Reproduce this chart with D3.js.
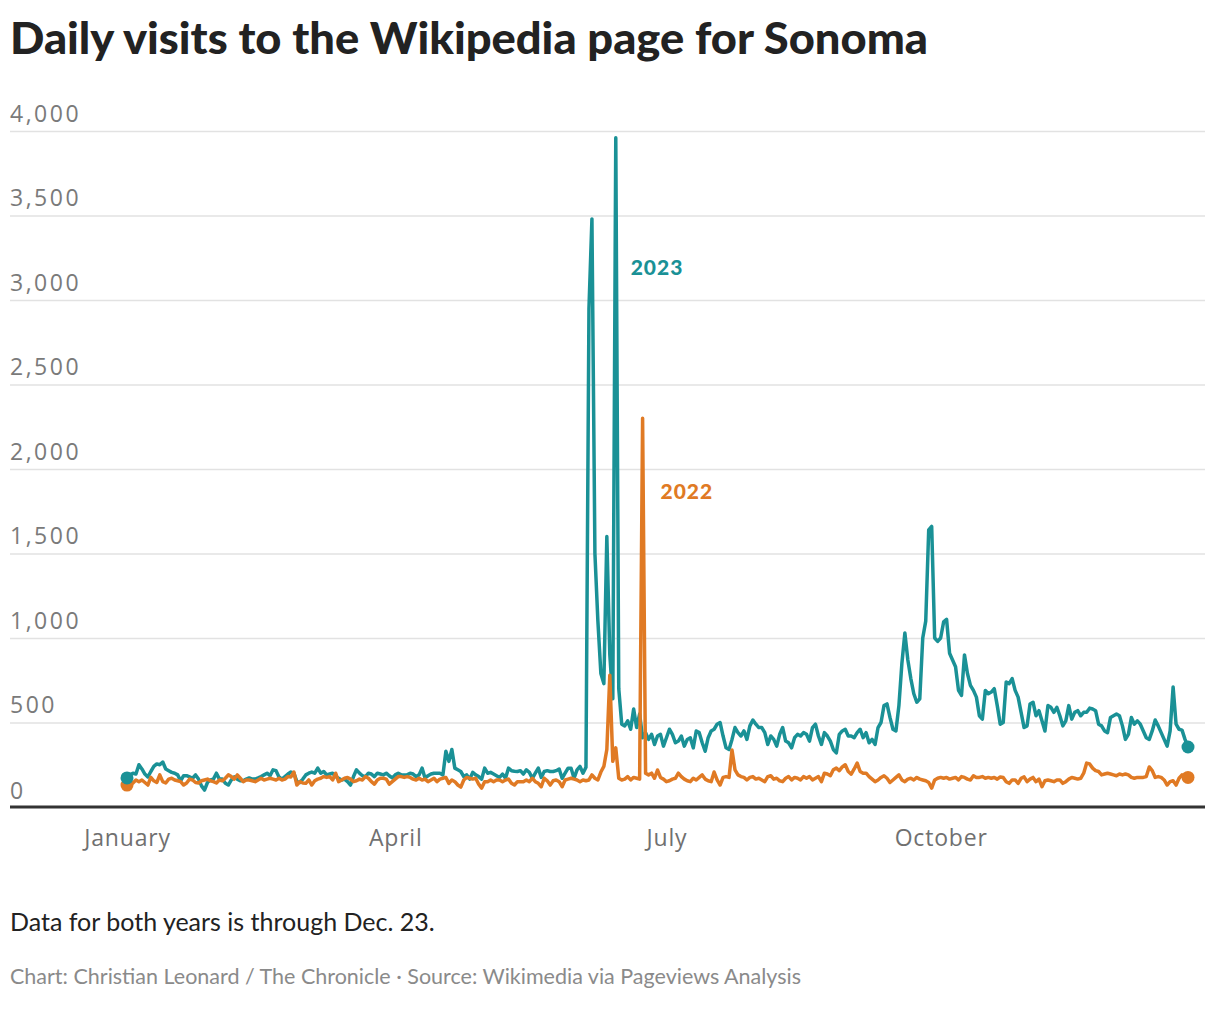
<!DOCTYPE html>
<html>
<head>
<meta charset="utf-8">
<script src="https://cdn.jsdelivr.net/npm/d3@7"></script>
<style>
  html, body { margin: 0; padding: 0; background: #fff; }
  svg { display: block; }
</style>
</head>
<body>
<svg id="chart" width="1220" height="1012"></svg>
<script>
// ---------- DATA ----------
const startDay = "2023-01-01";   // both years plotted on a common Jan 1 – Dec 23 axis
const endDay = "2023-12-23";
const seriesNames = ["2022", "2023"];

const visits2023 = [
  172,190,200,195,250,225,195,178,210,240,
  255,250,266,225,215,205,200,190,155,185,
  185,178,170,190,165,125,100,145,160,165,
  200,165,165,140,130,160,178,165,155,155,
  165,172,165,165,172,180,190,200,185,220,
  215,178,165,180,195,207,200,150,145,165,
  190,200,207,200,230,200,210,190,195,200,
  180,170,160,165,150,130,180,220,200,185,
  180,200,195,180,200,195,190,200,185,172,
  190,200,190,190,190,200,195,180,190,230,
  172,185,195,200,200,200,190,330,270,340,
  230,220,210,180,190,165,205,190,180,165,
  230,200,205,195,185,175,195,170,230,215,
  212,210,215,195,220,205,170,200,230,175,
  210,215,210,210,215,225,170,200,230,230,
  170,220,240,200,235,2950,3480,1500,1100,790,
  730,1600,900,640,3960,700,490,480,510,460,
  580,470,550,410,440,400,430,370,420,430,
  360,410,460,430,380,390,420,360,400,410,
  350,450,440,380,330,410,450,460,490,500,
  420,350,340,400,470,440,420,450,400,480,
  515,490,470,470,440,370,420,400,360,430,
  470,390,380,350,410,430,420,440,430,390,
  470,490,420,370,440,420,390,340,320,430,
  450,460,420,420,410,440,460,410,440,380,
  400,370,470,500,600,610,530,460,450,600,
  850,1030,870,760,670,620,640,1000,1100,1640,
  1660,1000,980,1000,1095,1110,910,870,830,690,
  660,900,790,720,690,650,540,520,690,670,
  680,700,600,490,500,740,730,760,690,650,
  560,470,480,610,620,540,570,510,450,600,
  590,560,590,540,480,510,600,520,560,570,
  540,560,560,585,580,570,490,480,450,440,
  530,540,550,540,480,400,430,530,490,510,
  490,450,410,400,450,515,480,440,400,360,
  450,710,490,460,455,400,355
];

const visits2022 = [
  130,150,142,160,150,160,145,130,175,155,
  145,190,150,142,165,170,160,155,150,130,
  142,165,160,145,142,155,160,165,155,150,
  142,160,155,170,190,180,165,190,170,150,
  160,160,155,150,160,170,160,165,170,165,
  160,170,160,165,180,178,207,130,150,142,
  140,160,130,155,165,170,180,175,180,160,
  200,150,160,170,175,165,150,155,165,160,
  180,170,150,135,160,170,170,165,135,150,
  165,180,180,175,180,175,165,160,170,160,
  165,150,160,170,150,165,170,175,140,160,
  150,130,118,160,175,170,165,170,135,112,
  150,150,160,150,160,160,150,160,165,140,
  130,150,150,150,160,150,170,150,140,120,
  170,155,130,155,160,150,120,160,165,170,
  165,160,150,160,155,160,190,170,160,207,
  240,340,780,270,350,170,160,165,180,160,
  175,170,165,2300,200,190,200,170,219,175,
  165,150,155,165,170,200,180,165,155,150,
  170,160,175,190,165,155,150,207,160,130,
  175,180,175,337,220,190,180,175,160,175,
  180,165,170,160,150,180,185,165,170,155,
  150,170,180,160,175,170,160,180,170,180,
  160,170,180,150,200,195,185,220,230,215,
  237,250,210,195,225,260,210,200,200,180,
  165,150,160,175,185,170,145,160,175,190,
  160,150,165,170,160,175,165,160,155,145,
  112,160,170,175,170,175,165,170,175,160,
  180,175,165,160,185,175,175,180,170,175,
  170,175,165,178,175,150,140,160,160,140,
  170,178,150,165,175,150,165,120,155,160,
  155,150,160,160,140,150,165,175,170,165,
  170,200,260,255,230,215,210,190,195,200,
  195,190,185,195,190,195,190,175,170,175,
  175,175,180,237,215,175,180,175,160,130,
  150,155,130,170,190,175,175
];

const yTickValues = [0, 500, 1000, 1500, 2000, 2500, 3000, 3500, 4000];
const yTickLabels = ["0", "500", "1,000", "1,500", "2,000", "2,500", "3,000", "3,500", "4,000"];
const xTickDates = ["2023-01-01", "2023-04-01", "2023-07-01", "2023-10-01"];
const xTickLabels = ["January", "April", "July", "October"];

const titleText = "Daily visits to the Wikipedia page for Sonoma";
const noteText = "Data for both years is through Dec. 23.";
const sourceText = "Chart: Christian Leonard / The Chronicle \u00B7 Source: Wikimedia via Pageviews Analysis";

// ---------- DRAW ----------
const svg = d3.select("#chart");
const parse = d3.timeParse("%Y-%m-%d");
const t0 = parse(startDay);
const dates = d3.range(visits2023.length).map(i => d3.timeDay.offset(t0, i));

const colors = { "2022": "#e07a24", "2023": "#1a9196" };
const gridLeft = 10, gridRight = 1205;

const x = d3.scaleTime().domain([parse(startDay), parse(endDay)]).range([127, 1188]);
const y = d3.scaleLinear().domain([0, 4000]).range([807, 131]);

// title
svg.append("text")
  .attr("x", 10).attr("y", 54)
  .attr("font-family", "Lato, 'Open Sans', sans-serif")
  .attr("font-weight", 900)
  .attr("font-size", 43)
  .attr("fill", "#222")
  .attr("textLength", 918)
  .attr("lengthAdjust", "spacingAndGlyphs")
  .text(titleText);

// y grid + labels via axis
const yAxis = d3.axisLeft(y).tickValues(yTickValues).tickSize(0).tickFormat((d, i) => yTickLabels[i]);
const gy = svg.append("g").call(yAxis);
gy.select(".domain").remove();
gy.selectAll(".tick text")
  .attr("x", gridLeft).attr("dy", -10)
  .attr("text-anchor", "start")
  .attr("font-family", "'Open Sans', sans-serif")
  .attr("font-size", 23)
  .attr("letter-spacing", 2.5)
  .attr("fill", "#7a7a7a");
gy.selectAll(".tick").filter(d => d > 0).append("line")
  .attr("x1", gridLeft).attr("x2", gridRight)
  .attr("stroke", "#e2e2e2").attr("stroke-width", 1.5);
gy.selectAll(".tick").filter(d => d === 0).select("text").attr("dy", -9);

// x axis
const xAxis = d3.axisBottom(x).tickValues(xTickDates.map(parse)).tickSize(0).tickFormat((d, i) => xTickLabels[i]);
const gx = svg.append("g").attr("transform", `translate(0,${y(0)})`).call(xAxis);
gx.select(".domain").remove();
gx.selectAll(".tick text")
  .attr("dy", 36)
  .attr("font-family", "'Open Sans', sans-serif")
  .attr("font-size", 23)
  .attr("letter-spacing", 0.8)
  .attr("fill", "#707070");
svg.append("line")
  .attr("x1", gridLeft).attr("x2", gridRight)
  .attr("y1", y(0)).attr("y2", y(0))
  .attr("stroke", "#333").attr("stroke-width", 3);

// lines
const series = [
  { name: "2023", values: visits2023 },
  { name: "2022", values: visits2022 }
];
const line = d3.line().x((d, i) => x(dates[i])).y(d => y(d));
svg.append("g").selectAll("path").data(series).join("path")
  .attr("d", s => line(s.values))
  .attr("fill", "none")
  .attr("stroke", s => colors[s.name])
  .attr("stroke-width", 3.5)
  .attr("stroke-linejoin", "round");

// dots (start and end)
const dotData = [];
[series[1], series[0]].forEach(s => {
  dotData.push({ name: s.name, i: 0, v: s.values[0] });
  dotData.push({ name: s.name, i: s.values.length - 1, v: s.values[s.values.length - 1] });
});
svg.append("g").selectAll("circle").data(dotData).join("circle")
  .attr("cx", d => x(dates[d.i])).attr("cy", d => y(d.v))
  .attr("r", 6.5)
  .attr("fill", d => colors[d.name]);

// series labels
const labelPos = { "2023": { date: "2023-06-19", v: 3150 }, "2022": { date: "2023-06-29", v: 1820 } };
svg.append("g").selectAll("text").data(seriesNames).join("text")
  .attr("x", d => x(parse(labelPos[d].date)))
  .attr("y", d => y(labelPos[d].v))
  .attr("font-family", "Lato, sans-serif")
  .attr("font-weight", 900)
  .attr("font-size", 21)
  .attr("letter-spacing", 1)
  .attr("fill", d => colors[d])
  .text(d => d);

// note + source
svg.append("text")
  .attr("x", 10).attr("y", 931)
  .attr("font-family", "Lato, sans-serif")
  .attr("font-size", 25)
  .attr("fill", "#222")
  .text(noteText);
svg.append("text")
  .attr("x", 10).attr("y", 984)
  .attr("font-family", "Lato, sans-serif")
  .attr("font-size", 21.5)
  .attr("fill", "#8a8a8a")
  .text(sourceText);
</script>
</body>
</html>
